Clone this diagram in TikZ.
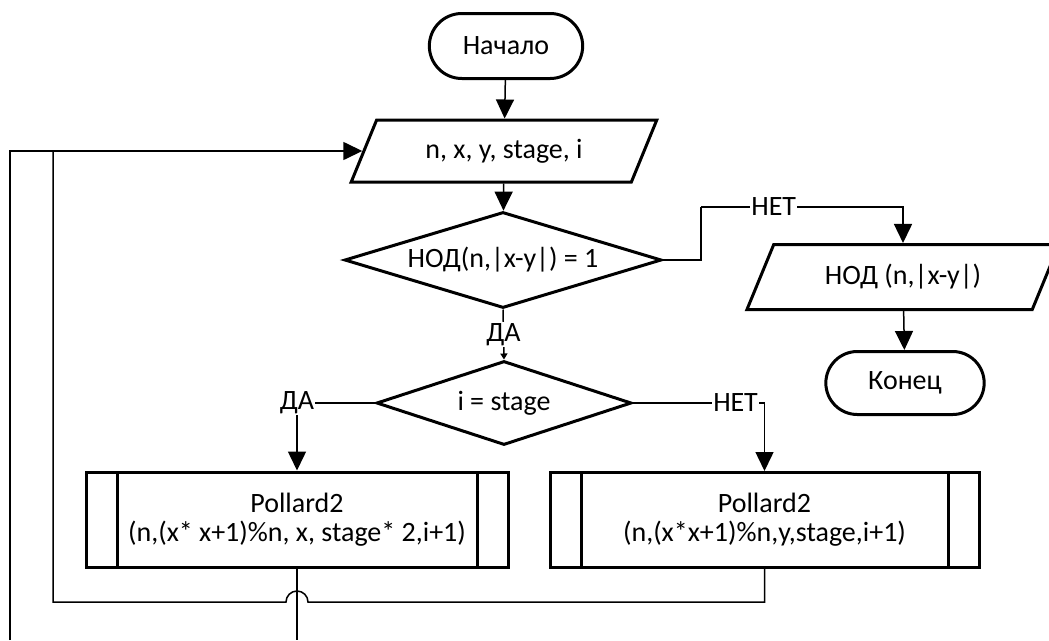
\documentclass[tikz,border=0pt]{standalone}
\usepackage{fontspec}
\setmainfont{Carlito}
\usetikzlibrary{shapes.geometric, shapes.misc, arrows.meta, positioning, calc}

\newcommand{\chartfont}{\fontsize{28}{29}\selectfont}

\begin{document}
\begin{tikzpicture}[x=1pt, y=-1pt,
    terminal/.style={rounded rectangle, draw=black, line width=3pt, minimum width=160pt, minimum height=65pt, align=center, font=\chartfont},
    io/.style={trapezium, trapezium left angle=62, trapezium right angle=118, trapezium stretches=true, draw=black, line width=3pt, align=center, font=\chartfont},
    decision/.style={diamond, draw=black, line width=3pt, inner sep=0pt, align=center, font=\chartfont},
    subproc/.style={rectangle, draw=black, line width=3pt, minimum height=95pt, align=center, font=\chartfont,
        path picture={\draw[line width=3pt] ([xshift=31pt]path picture bounding box.north west) -- ([xshift=31pt]path picture bounding box.south west)
            ([xshift=-31pt]path picture bounding box.north east) -- ([xshift=-31pt]path picture bounding box.south east);}},
    line/.style={line width=1.5pt, black},
    arrow/.style={-{Triangle[length=19pt, width=18pt]}, line width=1.5pt, black},
    smallarrow/.style={-{Triangle[length=6pt, width=7pt]}, line width=1.5pt, black},
    lbl/.style={fill=white, inner sep=1pt, font=\chartfont}
]
\clip (0,0) rectangle (1049,640);

% Start and end
\node[terminal] (start) at (506,46) {Начало};
\node[terminal, minimum width=165pt, minimum height=63pt] (finish) at (905,383) {Конец};

% Input and output
\node[io, minimum width=306pt, minimum height=62pt] (input) at (504,151) {n, x, y, stage, i};
\node[io, minimum width=313pt, minimum height=65pt] (gcd) at (903,277) {НОД (n,|x-y|)};

% Decisions
\node[decision, minimum width=317pt, minimum height=96pt, aspect=3.3] (check) at (503,260) {НОД(n,|x-y|) = 1};
\node[decision, minimum width=255pt, minimum height=84pt, aspect=3] (stage) at (504,403) {i = stage};

% Recursive calls
\node[subproc, minimum width=422pt] (pollA) at (297,519.5) {Pollard2\\(n,(x* x+1)\%n, x, stage* 2,i+1)};
\node[subproc, minimum width=429pt] (pollB) at (764.5,520) {Pollard2\\(n,(x*x+1)\%n,y,stage,i+1)};

% Helper points
\coordinate (noTurn) at (701,207);
\coordinate (hop) at (308,602);
\coordinate (backL) at (53,602);
\coordinate (outerIn) at (10,640);

% Main flow
\draw[arrow] (start) -- (input);
\draw[arrow] (input) -- (check);
\draw[line] (check.east) -| (noTurn);
\draw[arrow] (noTurn) -| node[lbl, pos=0.18] {НЕТ} (gcd.north);
\draw[arrow] (gcd) -- (finish);
\draw[smallarrow] (check.south) -- node[lbl] {ДА} (stage.north);
\draw[arrow] (stage.west) -| node[lbl, pos=0.5] {ДА} (pollA.north);
\draw[arrow] (stage.east) -| node[lbl, pos=0.39] {НЕТ} (pollB.north);

% Loops back to input
\draw[line] (pollB.south) |- (hop) arc[start angle=0, end angle=-180, radius=11] -- (backL) -- (backL |- input.west);
\draw[line] (pollA.south) -- (pollA.south |- outerIn);
\draw[arrow] (outerIn) |- (input.west);

\end{tikzpicture}
\end{document}
